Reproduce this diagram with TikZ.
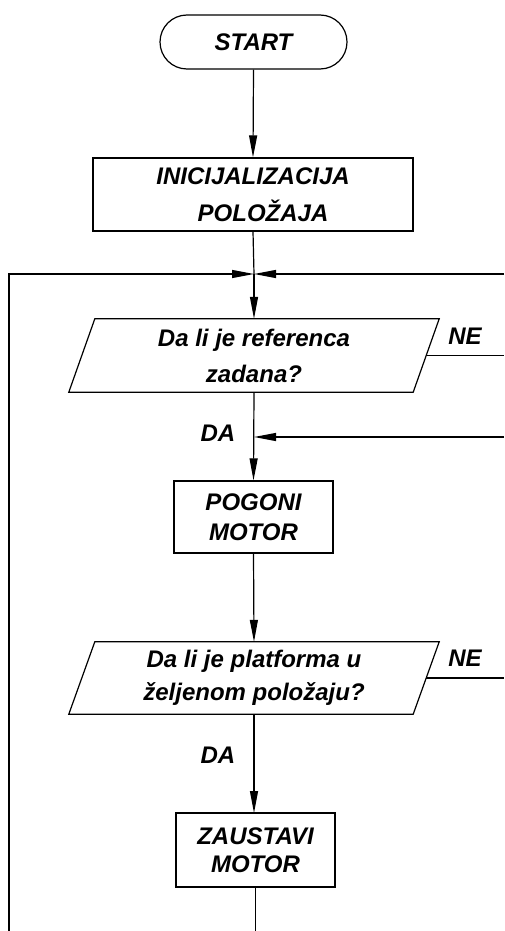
\documentclass[tikz,border=0pt]{standalone}
\usepackage{fontspec}
\setmainfont{Liberation Sans}
\usetikzlibrary{arrows.meta}
\begin{document}
\begin{tikzpicture}[x=1pt,y=-1pt,
  every node/.style={font=\fontsize{24}{29}\selectfont\bfseries\itshape, inner sep=0pt},
  ln/.style={line width=1.2pt},
  arr/.style={ln, -{Triangle[length=22pt,width=8pt]}},
  boxnode/.style={draw, line width=1.2pt, minimum width=159pt, minimum height=72pt, align=center},
  decnode/.style={minimum width=344pt, minimum height=73pt, align=center},
  lbl/.style={}]
\useasboundingbox (0,0) rectangle (504,931);
\node[draw, line width=1.2pt, rounded corners=27pt, minimum width=187pt, minimum height=54pt] (start) at (253.5,42) {START};
\node[boxnode, minimum width=320pt, minimum height=73pt, font=\fontsize{24}{37}\selectfont\bfseries\itshape] (init) at (253,194.5) {INICIJALIZACIJA\\\hspace*{20pt}POLOŽAJA};
\coordinate (j) at (254,274);
\coordinate (jl) at (9,931);
\coordinate (jr) at (504,274);
\node[decnode, font=\fontsize{24}{36}\selectfont\bfseries\itshape] (d1) at (254,355.5) {Da li je referenca\\zadana?};
\draw[ln] ([xshift=13pt]d1.north west) -- ([xshift=13pt]d1.north east) -- ([xshift=-13pt]d1.south east) -- ([xshift=-13pt]d1.south west) -- cycle;
\node[boxnode, font=\fontsize{24}{30}\selectfont\bfseries\itshape] (p1) at (253.5,517) {POGONI\\MOTOR};
\node[decnode, minimum height=72pt, font=\fontsize{24}{33}\selectfont\bfseries\itshape] (d2) at (254,678) {Da li je platforma u\\željenom položaju?};
\draw[ln] ([xshift=13pt]d2.north west) -- ([xshift=13pt]d2.north east) -- ([xshift=-13pt]d2.south east) -- ([xshift=-13pt]d2.south west) -- cycle;
\node[boxnode, minimum height=74pt, font=\fontsize{24}{28}\selectfont\bfseries\itshape] (z) at (255.5,850) {ZAUSTAVI\\MOTOR};
\coordinate (m1) at (254,437);
\coordinate (r1) at (504,437);
\coordinate (ne1) at (504,355.5);
\coordinate (ne2) at (504,678);
\coordinate (zb) at (255.5,931);
\draw[arr] (start.south) -- (init.north);
\draw[ln] (init.south) -- (j);
\draw[arr] (jl) |- (j);
\draw[arr] (jr) -- (j);
\draw[arr] (j) -- (d1.north);
\draw[ln] (d1.east) -- (ne1);
\draw[arr] (d1.south) -- (p1.north);
\draw[arr] (r1) -- (m1);
\draw[arr] (p1.south) -- (d2.north);
\draw[ln] (d2.east) -- (ne2);
\draw[arr] (d2.south) -- (254,813);
\draw[ln] (z.south) -- (zb);
\node[lbl] (ne1l) at (465,336) {NE};
\node[lbl] (da1l) at (218,433) {DA};
\node[lbl] (ne2l) at (465,658) {NE};
\node[lbl] (da2l) at (218,755) {DA};
\end{tikzpicture}
\end{document}
